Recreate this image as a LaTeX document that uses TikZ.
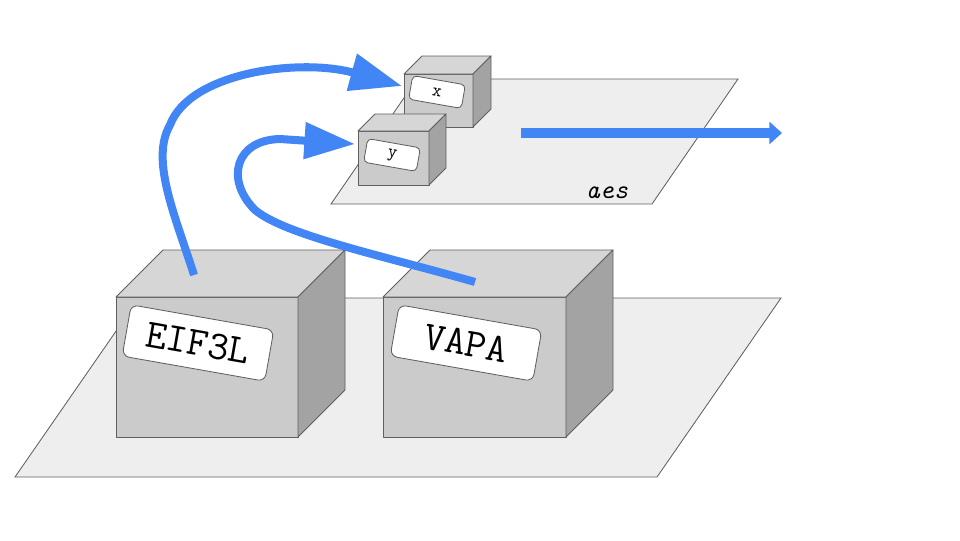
\documentclass[tikz,border=0pt]{standalone}
\usepackage{fontspec}
\usetikzlibrary{arrows.meta}

\definecolor{flow}{HTML}{4285F4}
\definecolor{edge}{HTML}{606060}
\definecolor{floor}{HTML}{EEEEEE}
\definecolor{front}{HTML}{CBCBCB}
\definecolor{lid}{HTML}{D6D6D6}
\definecolor{side}{HTML}{A3A3A3}

\tikzset{
  plane/.style={draw=edge, fill=floor, line width=0.6pt},
  face/.style={draw=edge, line width=0.6pt, line join=round},
  tag/.style={draw=edge, fill=white, rounded corners=5pt, rotate=-10, line width=0.6pt, font=\ttfamily},
  pics/crate/.style n args={3}{code={
    \draw[face, fill=front] (0,0) rectangle (#1,#2);
    \draw[face, fill=lid] (0,0) -- (#3,-#3) -- (#1+#3,-#3) -- (#1,0) -- cycle;
    \draw[face, fill=side] (#1,0) -- (#1+#3,-#3) -- (#1+#3,#2-#3) -- (#1,#2) -- cycle;
  }}
}

\begin{document}
\begin{tikzpicture}[x=0.025cm, y=-0.025cm]
\useasboundingbox (0,0) rectangle (960,540);

% lower layer
\draw[plane] (139,298) -- (781,298) -- (657,477) -- (15,477) -- cycle;
\pic at (116,297) {crate={182}{140}{47}};
\pic at (383,297) {crate={183}{140}{47}};
\node[tag, minimum width=103pt, minimum height=37pt, font=\ttfamily\fontsize{29}{32}\selectfont] (eif) at (198,343) {EIF3L};
\node[tag, minimum width=103pt, minimum height=37pt, font=\ttfamily\fontsize{29}{32}\selectfont] (vapa) at (466,343) {VAPA};

% upper layer
\draw[plane] (417,79) -- (738,79) -- (652,204) -- (331,204) -- cycle;
\node[font=\ttfamily\itshape\fontsize{19}{21}\selectfont, anchor=base] (aes) at (607,198) {aes};
\pic at (404,74) {crate={69}{53}{18}};
\pic at (358,131) {crate={71}{54}{17}};
\node[tag, rounded corners=3pt, minimum width=38pt, minimum height=17pt, font=\ttfamily\fontsize{13}{15}\selectfont] (x) at (437,92) {x};
\node[tag, rounded corners=3pt, minimum width=38pt, minimum height=17pt, font=\ttfamily\fontsize{13}{15}\selectfont] (y) at (392,155) {y};

\coordinate (eif-top) at (194,275);
\coordinate (vapa-top) at (475,282);
\coordinate (x-in) at (402,86);
\coordinate (y-in) at (355,144);
\coordinate (out-from) at (521,133);
\coordinate (out-to) at (782,133);

\draw[flow, line width=5.7pt, -{Triangle[length=37pt, width=26pt]}]
    (eif-top) .. controls (175,215) and (150,160) .. (170,125)
    .. controls (190,72) and (300,58) .. (x-in);
\draw[flow, line width=5.7pt, -{Triangle[length=36pt, width=25pt]}]
    (vapa-top) .. controls (380,255) and (285,235) .. (255,210)
    .. controls (225,180) and (235,140) .. (280,139) -- (y-in);
\draw[flow, line width=7.4pt, -{Triangle[length=9pt, width=15.6pt]}] (out-from) -- (out-to);

\end{tikzpicture}
\end{document}
